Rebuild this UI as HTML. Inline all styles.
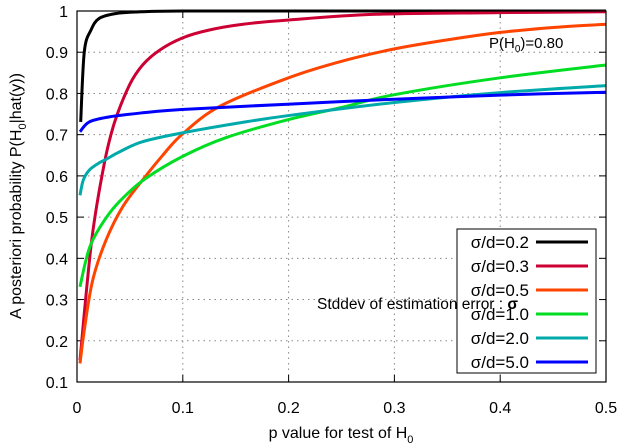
<!DOCTYPE html>
<html><head><meta charset="utf-8"><style>
body{margin:0;background:#fff}
svg{display:block;font-family:"Liberation Sans",sans-serif}
</style></head><body>
<svg id="chart" width="625" height="445" viewBox="0 0 625 445" xmlns="http://www.w3.org/2000/svg">
<g id="grid"></g>
<g id="axes"></g>
<g id="series"></g>
<rect x="77" y="11" width="529" height="371" fill="none" stroke="#000" stroke-width="1.2"/>
<text x="489" y="48" font-size="15">P(H<tspan font-size="10" dy="4">0</tspan><tspan dy="-4">)=0.80</tspan></text>
<g>
<rect x="457" y="229" width="139" height="144" fill="#fff" stroke="#000" stroke-width="1"/>
<g id="legend-entries"></g>
</g>
<text x="317" y="309" font-size="15.5">Stddev  of estimation error : <tspan font-weight="bold">σ</tspan></text>
<text x="341" y="438" font-size="16" text-anchor="middle">p value for test of H<tspan font-size="11" dy="5">0</tspan></text>
<text transform="translate(21,196) rotate(-90)" font-size="16" text-anchor="middle">A posteriori probability P(H<tspan font-size="11" dy="5">0</tspan><tspan dy="-5">|hat(y))</tspan></text>
</svg>
<script>
const xTicks=[0,0.1,0.2,0.3,0.4,0.5];
const xTickLabels=["0","0.1","0.2","0.3","0.4","0.5"];
const yTicks=[0.1,0.2,0.3,0.4,0.5,0.6,0.7,0.8,0.9,1];
const yTickLabels=["0.1","0.2","0.3","0.4","0.5","0.6","0.7","0.8","0.9","1"];
const seriesNames=["σ/d=0.2","σ/d=0.3","σ/d=0.5","σ/d=1.0","σ/d=2.0","σ/d=5.0"];
const seriesColors=["#000000","#cc0033","#ff4400","#00dd22","#00aaaa","#0000ff"];
const pBlack=[0.0035,0.0069,0.0132,0.021,0.037,0.06,0.1,0.2,0.3,0.4,0.5];
const vBlack=[0.731,0.901,0.954,0.982,0.994,0.998,1,1,1,1,1];
const pRed=[0.0028,0.0139,0.0258,0.0353,0.0495,0.062,0.078,0.099,0.125,0.157,0.199,0.283,0.4,0.5];
const vRed=[0.153,0.444,0.63,0.728,0.82,0.869,0.905,0.934,0.954,0.968,0.978,0.992,0.996,0.998];
const pOrange=[0.0028,0.0069,0.0148,0.0274,0.0432,0.062,0.081,0.099,0.1345,0.2,0.25,0.3,0.35,0.4,0.45,0.5];
const vOrange=[0.145,0.226,0.347,0.444,0.525,0.59,0.65,0.70,0.768,0.838,0.878,0.908,0.93,0.948,0.96,0.968];
const pGreen=[0.0028,0.0085,0.0148,0.0305,0.046,0.065,0.099,0.141,0.199,0.25,0.3,0.4,0.5];
const vGreen=[0.331,0.396,0.444,0.509,0.553,0.594,0.646,0.693,0.736,0.766,0.797,0.838,0.869];
const pTeal=[0.0028,0.006,0.0116,0.02,0.0274,0.04,0.062,0.099,0.15,0.199,0.3,0.4,0.5];
const vTeal=[0.553,0.59,0.614,0.63,0.64,0.658,0.683,0.704,0.727,0.746,0.778,0.802,0.819];
const pBlue=[0.0028,0.0116,0.0305,0.062,0.099,0.199,0.3,0.4,0.5];
const vBlue=[0.707,0.731,0.743,0.753,0.761,0.774,0.786,0.796,0.803];
const seriesP=[pBlack,pRed,pOrange,pGreen,pTeal,pBlue];
const seriesV=[vBlack,vRed,vOrange,vGreen,vTeal,vBlue];

const NS="http://www.w3.org/2000/svg";
const X0=77,X1=606,Y0=382,Y1=11;
function xs(v){return X0+(v-0)/(0.5-0)*(X1-X0);}
function ys(v){return Y0-(v-0.1)/(1-0.1)*(Y0-Y1);}
function mk(t,a,parent){const e=document.createElementNS(NS,t);for(const k in a)e.setAttribute(k,a[k]);parent.appendChild(e);return e;}
function smooth(pts){
  let d='M'+pts[0][0].toFixed(1)+','+pts[0][1].toFixed(1);
  for(let i=0;i<pts.length-1;i++){
    const p0=pts[i-1]||pts[i],p1=pts[i],p2=pts[i+1],p3=pts[i+2]||p2;
    let c1x=p1[0]+(p2[0]-p0[0])/6,c1y=p1[1]+(p2[1]-p0[1])/6;
    let c2x=p2[0]-(p3[0]-p1[0])/6,c2y=p2[1]-(p3[1]-p1[1])/6;
    c1x=Math.min(Math.max(c1x,p1[0]),p2[0]);c2x=Math.min(Math.max(c2x,p1[0]),p2[0]);
    d+=' C'+c1x.toFixed(1)+','+c1y.toFixed(1)+' '+c2x.toFixed(1)+','+c2y.toFixed(1)+' '+p2[0].toFixed(1)+','+p2[1].toFixed(1);
  }
  return d;
}
const grid=document.getElementById('grid'),axes=document.getElementById('axes'),ser=document.getElementById('series'),leg=document.getElementById('legend-entries');
xTicks.forEach((t,i)=>{
  const x=xs(t);
  if(i>0&&i<xTicks.length-1){const g=mk('line',{x1:x,x2:x,y1:Y1,y2:Y0,stroke:'#888','stroke-dasharray':'1.5,4'},grid);
  
  }
  const tk=mk('line',{x1:x,x2:x,y1:Y0,y2:Y0-7,stroke:'#000'},axes);
  
  
  const tk2=mk('line',{x1:x,x2:x,y1:Y1,y2:Y1+7,stroke:'#000'},axes);
  
  
  const l=mk('text',{x:x,y:413,'font-size':16,'text-anchor':'middle'},axes);l.textContent=xTickLabels[i];
  
  
});
yTicks.forEach((t,i)=>{
  const y=ys(t);
  if(i>0&&i<yTicks.length-1){const g=mk('line',{x1:X0,x2:X1,y1:y,y2:y,stroke:'#888','stroke-dasharray':'1.5,4'},grid);
  
  }
  const tk=mk('line',{x1:X0,x2:X0+7,y1:y,y2:y,stroke:'#000'},axes);
  
  
  const tk2=mk('line',{x1:X1,x2:X1-7,y1:y,y2:y,stroke:'#000'},axes);
  
  
  const l=mk('text',{x:68,y:y+6,'font-size':16,'text-anchor':'end'},axes);l.textContent=yTickLabels[i];
  
  
});
seriesNames.forEach((n,i)=>{
  const pts=seriesP[i].map((p,j)=>[xs(p),ys(seriesV[i][j])]);
  const pl=mk('path',{d:smooth(pts),fill:'none',stroke:seriesColors[i],'stroke-width':3,'stroke-linejoin':'round'},ser);
  
  
  const y=242+i*24;
  const t=mk('text',{x:529,y:y+6,'font-size':17,'text-anchor':'end'},leg);t.textContent=n;
  
  
  const ll=mk('line',{x1:536,x2:588,y1:y,y2:y,stroke:seriesColors[i],'stroke-width':3},leg);
  
  
});
</script>
</body></html>
